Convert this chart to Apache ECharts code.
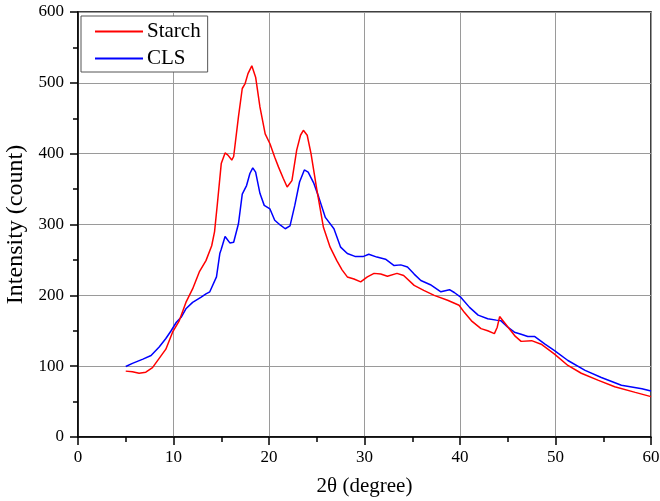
<!DOCTYPE html>
<html>
<head>
<meta charset="utf-8">
<script src="https://cdn.jsdelivr.net/npm/echarts@6/dist/echarts.min.js"></script>
<style>
	html, body { margin: 0; padding: 0; background: #fff; }
	#chart { width: 660px; height: 501px; }
</style>
</head>
<body>
<div id="chart"></div>
<script>
// XRD 图谱数据 [2θ, intensity]
var starchData = [
	[5.0, 93], [5.7, 92], [6.4, 90], [7.1, 91.5], [7.8, 98], [8.5, 111], [9.2, 124], [9.9, 148],
	[10.6, 164], [11.3, 190], [12.0, 209], [12.7, 233], [13.4, 249], [14.0, 270], [14.3, 290],
	[14.6, 330], [15.0, 386], [15.4, 401], [15.7, 398], [16.1, 391], [16.3, 396], [16.8, 452],
	[17.2, 492], [17.5, 499], [17.8, 513], [18.2, 524], [18.6, 508], [19.05, 466], [19.6, 428],
	[20.1, 414], [20.6, 395], [21.0, 381], [21.5, 365], [21.9, 353], [22.4, 362], [22.9, 405],
	[23.3, 426], [23.6, 433], [24.0, 426], [24.4, 400], [25.0, 350], [25.7, 296], [26.4, 268],
	[27.1, 249], [27.65, 236], [28.2, 226], [28.9, 223], [29.6, 219], [30.3, 226], [31.0, 231],
	[31.7, 230], [32.4, 227], [33.4, 231], [34.1, 228], [35.2, 214], [36.2, 207], [37.3, 200],
	[38.7, 193], [39.9, 186], [40.45, 176], [41.2, 164], [42.2, 153], [42.9, 150], [43.6, 146],
	[43.9, 155], [44.15, 170], [44.5, 164], [45.2, 152], [45.8, 142], [46.4, 135], [47.5, 136],
	[48.5, 131], [49.9, 117], [51.3, 101], [52.7, 90], [54.5, 80], [56.2, 71], [58.35, 63], [60, 57]
];
var clsData = [
	[5.0, 99.5], [5.7, 104], [6.8, 110], [7.65, 115], [8.5, 127], [9.2, 139], [9.75, 150],
	[10.3, 162], [10.8, 169], [11.3, 181], [12.0, 190], [12.9, 197.5], [13.4, 202], [13.8, 205],
	[14.5, 226], [14.85, 259], [15.0, 265], [15.4, 283], [15.9, 274], [16.3, 275], [16.8, 301],
	[17.2, 343], [17.65, 355], [18.0, 372], [18.3, 380], [18.6, 374], [19.05, 344], [19.5, 327],
	[20.1, 322], [20.6, 306], [21.2, 299], [21.7, 294], [22.2, 298], [22.7, 327], [23.2, 360],
	[23.7, 377], [24.1, 374], [24.7, 358], [25.2, 339], [25.9, 310], [26.8, 294], [27.5, 268],
	[28.2, 259], [29.0, 255], [29.9, 255], [30.45, 258], [31.3, 254], [32.2, 251], [33.1, 242],
	[33.8, 243], [34.5, 240], [35.2, 230], [35.9, 221], [36.9, 215], [38.0, 205], [38.9, 208],
	[39.4, 204], [40.1, 197], [41.0, 183], [41.9, 172], [42.9, 167], [43.8, 165], [44.3, 164],
	[45.0, 155], [45.7, 148], [46.4, 145], [47.1, 142], [47.8, 142], [48.9, 131], [49.9, 122],
	[51.3, 108], [53.1, 94], [54.8, 84], [56.9, 73], [59.05, 68], [60, 65]
];
var seriesNames = ['Starch', 'CLS'];
var seriesColors = ['#ff0000', '#0000ff'];

var font = 'Liberation Serif';
var chart = echarts.init(document.getElementById('chart'));

chart.setOption({
	backgroundColor: '#fff',
	animation: false,
	textStyle: { fontFamily: font, color: '#000' },
	grid: {
		left: 78,
		right: 9,
		top: 12,
		bottom: 64,
		containLabel: false,
		outerBoundsMode: 'none',
		show: true,
		borderColor: '#000',
		borderWidth: 1.5
	},
	legend: {
		data: seriesNames,
		orient: 'vertical',
		left: 81,
		top: 16,
		icon: 'rect',
		itemWidth: 48,
		itemHeight: 2,
		itemGap: 6,
		padding: [5, 7, 3, 14],
		backgroundColor: '#fff',
		borderColor: '#555',
		borderWidth: 1,
		borderRadius: 0,
		textStyle: { fontFamily: font, fontSize: 21, color: '#000', padding: [0, 0, 0, -1] }
	},
	xAxis: {
		type: 'value',
		min: 0,
		max: 60,
		interval: 10,
		name: '2θ (degree)',
		nameLocation: 'middle',
		nameGap: 39,
		nameTextStyle: { fontFamily: font, fontSize: 21, color: '#000' },
		axisLine: { show: true, onZero: false, lineStyle: { color: '#000', width: 1.5 } },
		axisTick: { show: true, inside: false, length: 8, lineStyle: { color: '#000', width: 1.5 } },
		minorTick: { show: true, splitNumber: 2, length: 5, lineStyle: { color: '#000', width: 1.5 } },
		axisLabel: { fontFamily: font, fontSize: 17, color: '#000', margin: 12 },
		splitLine: { show: true, lineStyle: { color: '#9a9a9a', width: 1 } }
	},
	yAxis: {
		type: 'value',
		min: 0,
		max: 600,
		interval: 100,
		name: 'Intensity (count)',
		nameLocation: 'middle',
		nameGap: 49,
		nameTextStyle: { fontFamily: font, fontSize: 24, color: '#000' },
		axisLine: { show: true, lineStyle: { color: '#000', width: 1.5 } },
		axisTick: { show: true, inside: false, length: 8, lineStyle: { color: '#000', width: 1.5 } },
		minorTick: { show: true, splitNumber: 2, length: 5, lineStyle: { color: '#000', width: 1.5 } },
		axisLabel: { fontFamily: font, fontSize: 17, color: '#000', margin: 14 },
		splitLine: { show: true, lineStyle: { color: '#9a9a9a', width: 1 } }
	},
	series: [{
		name: seriesNames[0],
		type: 'line',
		data: starchData,
		showSymbol: false,
		symbol: 'none',
		itemStyle: { color: seriesColors[0] },
		lineStyle: { color: seriesColors[0], width: 1.5 },
		z: 3
	}, {
		name: seriesNames[1],
		type: 'line',
		data: clsData,
		showSymbol: false,
		symbol: 'none',
		itemStyle: { color: seriesColors[1] },
		lineStyle: { color: seriesColors[1], width: 1.5 },
		z: 2
	}]
});
</script>
</body>
</html>
